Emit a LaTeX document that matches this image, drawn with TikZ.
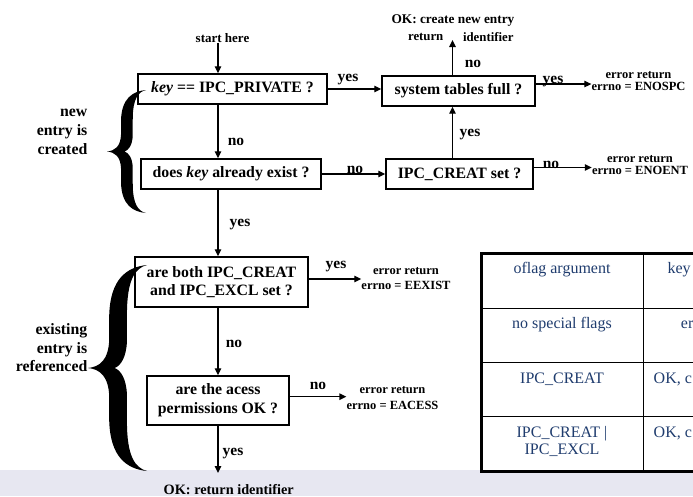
\documentclass[tikz,border=0pt]{standalone}
\usepackage{fontspec}
\setmainfont{Liberation Serif}
\usetikzlibrary{arrows.meta}

\definecolor{bandgray}{RGB}{231,231,241}
\definecolor{cellblue}{RGB}{31,60,110}
\newcommand\fsz[2]{\fontsize{#1}{#2}\selectfont}

\tikzset{
  flowbox/.style={draw, line width=1.4pt, fill=white, inner sep=0pt, align=center,
    font=\fsz{15.8}{18.7}\bfseries},
  arr/.style={line width=1.3pt, -{Triangle[length=7pt,width=6.5pt]}},
  answer/.style={inner sep=0pt, font=\fsz{15.5}{18}\bfseries},
  note/.style={inner sep=0pt, align=center, font=\fsz{12.5}{12}\bfseries},
  side/.style={inner sep=0pt, align=right, font=\fsz{15.8}{18.7}\bfseries},
  cell/.style={inner sep=0pt, anchor=base, text=cellblue, font=\fsz{16}{18}},
  % a filled curly brace: tips at x=0 (top y=0, bottom y=1), point at (-1,0.5)
  pics/curly/.style={code={
    \fill (0,0) .. controls (-0.35,0.01) and (-0.62,0.07) .. (-0.64,0.24)
      -- (-0.64,0.36) .. controls (-0.65,0.46) and (-0.8,0.495) .. (-1,0.5)
      .. controls (-0.8,0.505) and (-0.65,0.54) .. (-0.64,0.64)
      -- (-0.64,0.76) .. controls (-0.62,0.93) and (-0.35,0.99) .. (0,1)
      .. controls (-0.2,0.985) and (-0.34,0.93) .. (-0.34,0.76)
      -- (-0.34,0.63) .. controls (-0.35,0.55) and (-0.45,0.51) .. (-0.55,0.5)
      .. controls (-0.45,0.49) and (-0.35,0.45) .. (-0.34,0.37)
      -- (-0.34,0.24) .. controls (-0.34,0.07) and (-0.2,0.015) .. cycle;
  }}
}

\begin{document}
\begin{tikzpicture}[x=1pt,y=-1pt]
\clip (0,0) rectangle (693,496);
\fill[white] (0,0) rectangle (693,496);
\fill[bandgray] (0,469.5) rectangle (693,496);

% ---- flag table (runs past the right edge) ----
\fill[white] (481,253) rectangle (820,471);
\foreach \ry in {308.3,362.7,416.7}
  \draw[line width=1.5pt] (481,\ry) -- (820,\ry);
\draw[line width=1.5pt] (643.3,253) -- (643.3,471);
\draw[line width=3pt] (481,253) rectangle (820,471);

\node[cell] (t11) at (562,273.5) {oflag argument};
\node[cell] (t21) at (562,328.8) {no special flags};
\node[cell] (t31) at (562,383.2) {IPC\_CREAT};
\node[cell] (t41) at (562,437.2) {IPC\_CREAT |};
\node[cell] (t41b) at (562,454.7) {IPC\_EXCL};
\node[cell, anchor=base west] (t12) at (667.3,273.5) {key};
\node[cell, anchor=base west] (t22) at (680.7,328.8) {er};
\node[cell, anchor=base west] (t32) at (653.5,383.2) {OK, c};
\node[cell, anchor=base west] (t42) at (653.5,437.2) {OK, c};

% ---- decision boxes ----
\node[flowbox, minimum width=189pt, minimum height=30pt] (priv) at (232.5,89)
  {\textit{key} == IPC\_PRIVATE ?};
\node[flowbox, minimum width=180pt, minimum height=30pt] (exist) at (231,174)
  {does \textit{key} already exist ?};
\node[flowbox, minimum width=153pt, minimum height=30pt] (stf) at (458.5,91)
  {system tables full ?};
\node[flowbox, minimum width=147pt, minimum height=30pt] (creat) at (459.5,174)
  {IPC\_CREAT set ?};
\node[flowbox, minimum width=173pt, minimum height=50pt] (both) at (221.5,282)
  {are both IPC\_CREAT\\and IPC\_EXCL set ?};
\node[flowbox, minimum width=142pt, minimum height=49pt] (perm) at (218,400.5)
  {are the acess\\permissions OK ?};

% ---- outcome texts ----
\node[note, font=\fsz{13}{13}\bfseries] (start) at (222.5,38) {start here};
\node[note, font=\fsz{13.3}{14}\bfseries] (okcr) at (453,20.7) {OK: create new entry};
\node[note, font=\fsz{12.8}{13}\bfseries] (okret1) at (425.7,37.3) {return};
\node[note, font=\fsz{12.8}{13}\bfseries] (okret2) at (488.3,37.3) {identifier};
\node[note] (enospc) at (638.5,81) {error return\\errno = ENOSPC};
\node[note] (enoent) at (640,165) {error return\\errno = ENOENT};
\node[note, font=\fsz{12.5}{15.5}\bfseries] (eexist) at (406,278.5) {error return\\errno = EEXIST};
\node[note, font=\fsz{12.5}{16.5}\bfseries] (eacess) at (392.5,398) {error return\\errno = EACESS};
\node[answer, font=\fsz{14.3}{16}\bfseries] (okid) at (228.7,489.3) {OK: return identifier};

% ---- side captions ----
\node[side, anchor=east] (newcap) at (87.5,131.7) {new\\entry is\\created};
\node[side, anchor=east] (refcap) at (87.5,347.7) {existing\\entry is\\referenced};

% ---- connectors ----
\coordinate (vx) at (218,0);
\coordinate (ux) at (452.5,0);
\coordinate (uptip) at (452.5,40);
\coordinate (endtip) at (218,473);

\draw[arr] (start.south -| vx) -- (vx |- priv.north);
\draw[arr] (vx |- priv.south) -- (vx |- exist.north);
\draw[arr] (priv.east) -- (priv.east -| stf.west);
\draw[arr] (exist.east) -- (exist.east -| creat.west);
\draw[arr] (ux |- creat.north) -- (ux |- stf.south);
\draw[arr] (ux |- stf.north) -- (uptip);
\draw[arr] ([yshift=7pt]stf.east) -- ([yshift=7pt]stf.east -| enospc.west);
\draw[arr] ([yshift=6.5pt]creat.east) -- ([yshift=6.5pt]creat.east -| enoent.west);
\draw[arr] (vx |- exist.south) -- (vx |- both.north);
\draw[arr] ([yshift=3pt]both.east) -- ([yshift=3pt]both.east -| eexist.west);
\draw[arr] (vx |- both.south) -- (vx |- perm.north);
\draw[arr] ([yshift=3.8pt]perm.east) -- ([yshift=3.8pt]perm.east -| eacess.west);
\draw[arr] (vx |- perm.south) -- (endtip);

% ---- yes / no labels ----
\node[answer] (l1) at (236,141.7) {no};
\node[answer] (l2) at (348,80) {yes};
\node[answer, anchor=base] (l3) at (355,173.5) {no};
\node[answer] (l4) at (470,135) {yes};
\node[answer] (l5) at (473,64) {no};
\node[answer, anchor=base] (l6) at (553,83.5) {yes};
\node[answer, anchor=base] (l7) at (551,168) {no};
\node[answer] (l8) at (240,225) {yes};
\node[answer] (l9) at (336,267) {yes};
\node[answer] (l10) at (234,344) {no};
\node[answer] (l11) at (318,385.7) {no};
\node[answer] (l12) at (233,454) {yes};

% ---- grouping braces ----
\pic[xscale=39, yscale=123] at (146,90) {curly};
\pic[xscale=59, yscale=206] at (147,265) {curly};
\end{tikzpicture}
\end{document}
